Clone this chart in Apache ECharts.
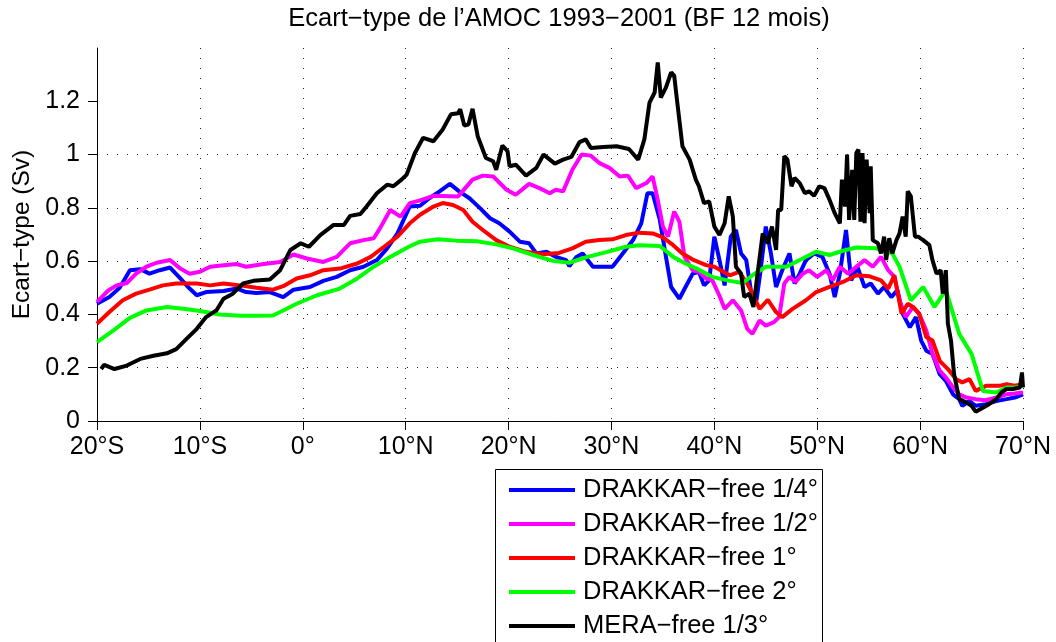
<!DOCTYPE html>
<html>
<head>
<meta charset="utf-8">
<script src="https://cdn.jsdelivr.net/npm/echarts@6/dist/echarts.min.js"></script>
<style>
  html, body { margin: 0; padding: 0; background: #fff; }
  #chart { width: 1056px; height: 642px; }
</style>
</head>
<body>
<div id="chart"></div>
<script>
// latitude (deg, negative = south) / std dev (Sv)
const blueData = [[-20,0.44],[-18.8,0.465],[-17.8,0.50],[-16.8,0.566],[-15.8,0.57],[-14.9,0.553],[-13.9,0.566],[-12.9,0.576],[-11.9,0.535],[-11,0.497],[-10.3,0.472],[-9.4,0.484],[-7.7,0.488],[-6.4,0.497],[-5.5,0.484],[-4.5,0.48],[-3.2,0.484],[-1.9,0.465],[-0.9,0.493],[0.7,0.503],[2.0,0.526],[3.3,0.541],[4.6,0.566],[5.9,0.579],[7.2,0.604],[8.2,0.648],[9.2,0.704],[9.8,0.755],[10.4,0.805],[11.4,0.808],[12.3,0.836],[13.3,0.862],[14.3,0.89],[15.2,0.862],[16.2,0.836],[17.2,0.8],[18.2,0.761],[19.1,0.742],[20.1,0.711],[21.1,0.673],[22,0.667],[22.7,0.629],[23.7,0.635],[24.6,0.616],[25.6,0.604],[25.9,0.581],[26.6,0.616],[27.2,0.629],[28.2,0.579],[29.2,0.579],[30.1,0.579],[31.1,0.629],[32.1,0.679],[32.9,0.742],[33.5,0.855],[34.0,0.855],[34.7,0.755],[35.3,0.616],[35.8,0.503],[36.6,0.459],[37.2,0.503],[37.9,0.553],[38.5,0.56],[39,0.509],[39.5,0.528],[40,0.692],[40.5,0.604],[41,0.509],[41.6,0.692],[42.1,0.717],[42.6,0.629],[43.1,0.604],[43.6,0.478],[44.1,0.453],[44.5,0.566],[45,0.73],[45.5,0.629],[46,0.503],[46.6,0.566],[47.3,0.629],[47.8,0.516],[48.3,0.553],[48.9,0.604],[49.7,0.629],[50.5,0.616],[51.2,0.553],[51.7,0.465],[52.2,0.553],[52.8,0.717],[53.3,0.528],[53.9,0.579],[54.6,0.503],[55.2,0.516],[55.9,0.478],[56.5,0.503],[57.2,0.465],[57.8,0.491],[58.3,0.403],[59,0.352],[59.6,0.39],[60.1,0.302],[60.6,0.264],[61.2,0.252],[61.9,0.176],[62.5,0.151],[63.2,0.1],[63.8,0.082],[64.1,0.057],[64.8,0.075],[65.4,0.057],[66.4,0.063],[67.4,0.075],[68.4,0.082],[69.2,0.088],[70,0.1]];

const magentaData = [[-20,0.447],[-18.9,0.49],[-18.1,0.509],[-17.1,0.518],[-16.2,0.553],[-15.2,0.579],[-14.2,0.594],[-12.9,0.604],[-11.9,0.572],[-11,0.553],[-10,0.56],[-9,0.579],[-7.7,0.585],[-6.4,0.589],[-5.5,0.579],[-3.8,0.589],[-2.2,0.597],[-0.9,0.625],[0.4,0.61],[2.0,0.597],[3.3,0.616],[4.6,0.667],[5.9,0.679],[6.9,0.686],[7.5,0.723],[8.5,0.792],[9.5,0.767],[10.4,0.818],[11.4,0.828],[12.7,0.845],[15.1,0.843],[16.5,0.906],[17.5,0.921],[18.5,0.918],[19.8,0.868],[20.7,0.849],[22,0.89],[23,0.874],[24,0.855],[24.6,0.868],[25.3,0.862],[26.2,0.943],[27.1,1.0],[28,0.996],[28.8,0.969],[29.8,0.95],[30.8,0.918],[31.6,0.921],[32.4,0.874],[33.4,0.893],[34,0.918],[34.5,0.83],[35,0.73],[35.5,0.692],[36.1,0.786],[36.6,0.748],[37.1,0.616],[37.9,0.566],[38.5,0.56],[39.2,0.535],[39.8,0.528],[40.5,0.47],[41,0.421],[41.8,0.453],[42.6,0.415],[43.2,0.346],[43.7,0.327],[44.4,0.377],[45,0.358],[45.8,0.371],[46.3,0.39],[46.8,0.516],[47.3,0.541],[47.9,0.522],[48.6,0.553],[49.2,0.566],[50,0.541],[50.9,0.566],[51.5,0.528],[52.2,0.579],[53,0.553],[53.8,0.579],[54.6,0.604],[55.4,0.579],[56.2,0.616],[56.9,0.566],[57.5,0.541],[58,0.453],[58.6,0.39],[59.3,0.428],[59.9,0.403],[60.6,0.34],[61.2,0.252],[61.9,0.189],[62.5,0.164],[63.2,0.126],[63.8,0.1],[64.5,0.088],[65.4,0.082],[66.4,0.078],[67.4,0.088],[68.4,0.1],[69.2,0.103],[70,0.107]];

const redData = [[-20,0.365],[-18.8,0.409],[-17.5,0.453],[-16.2,0.478],[-14.9,0.493],[-13.6,0.509],[-12.3,0.516],[-10.3,0.516],[-9,0.509],[-7.7,0.516],[-6.1,0.509],[-4.5,0.5],[-2.9,0.493],[-1.9,0.506],[-0.6,0.535],[0.7,0.547],[2.0,0.566],[3.6,0.572],[5.3,0.591],[6.6,0.616],[7.9,0.654],[9.2,0.692],[10.4,0.742],[11.4,0.774],[12.7,0.805],[13.6,0.818],[14.6,0.811],[15.6,0.792],[16.5,0.748],[17.5,0.717],[18.8,0.679],[20.1,0.654],[21.7,0.635],[23.3,0.626],[24.9,0.631],[26.2,0.648],[27.5,0.673],[28.8,0.679],[30.1,0.682],[31.4,0.698],[32.7,0.707],[34,0.704],[35,0.689],[36,0.66],[36.9,0.629],[37.9,0.606],[39.2,0.585],[40,0.579],[41.5,0.547],[42.4,0.56],[43.2,0.516],[43.7,0.478],[44.4,0.421],[45.2,0.455],[46,0.409],[46.6,0.39],[47.6,0.421],[48.9,0.453],[49.9,0.484],[51.2,0.503],[52.5,0.522],[53.8,0.547],[55.1,0.543],[56.2,0.528],[56.9,0.497],[57.5,0.547],[58.2,0.403],[58.8,0.44],[59.3,0.428],[59.9,0.403],[60.6,0.315],[61.2,0.302],[61.9,0.226],[62.7,0.195],[63.5,0.157],[64.1,0.145],[64.8,0.157],[65.4,0.113],[66.4,0.132],[67.7,0.132],[68.4,0.138],[69.2,0.132],[70,0.138]];

const greenData = [[-20,0.296],[-18.4,0.34],[-16.8,0.387],[-15.2,0.415],[-13.2,0.428],[-11.6,0.421],[-10,0.413],[-8.1,0.4],[-6.1,0.395],[-4.5,0.395],[-2.9,0.396],[-1.9,0.415],[-0.6,0.44],[1.4,0.472],[3.6,0.497],[5.3,0.535],[6.9,0.579],[8.5,0.616],[10.3,0.654],[11.4,0.673],[13.1,0.682],[14.9,0.677],[16.9,0.675],[18.8,0.663],[20.4,0.648],[22.4,0.623],[24.3,0.601],[25.9,0.594],[27.5,0.614],[29.5,0.634],[31.4,0.654],[32.7,0.66],[34.7,0.657],[36,0.616],[37.2,0.591],[38.5,0.568],[39.8,0.541],[41.5,0.526],[42.8,0.518],[43.7,0.547],[45,0.579],[47,0.579],[48.3,0.604],[49.9,0.635],[51.2,0.623],[52.5,0.639],[53.8,0.651],[55.7,0.648],[57.3,0.629],[58,0.579],[59.1,0.453],[60.3,0.503],[61.4,0.428],[62.5,0.491],[63.8,0.327],[65,0.252],[66.1,0.113],[67.4,0.107],[68.4,0.126],[69.3,0.126],[70,0.132]];

const blackData = [[-19.6,0.195],[-19.3,0.211],[-18.3,0.195],[-17.1,0.208],[-15.8,0.233],[-14.5,0.245],[-13.2,0.254],[-12.3,0.27],[-11.3,0.308],[-10.3,0.346],[-9.4,0.39],[-8.4,0.415],[-7.7,0.459],[-6.8,0.478],[-5.8,0.516],[-4.8,0.526],[-3.2,0.531],[-2.2,0.566],[-1.2,0.642],[-0.2,0.667],[0.6,0.654],[1.7,0.698],[3.0,0.736],[4.0,0.736],[4.6,0.77],[5.6,0.777],[6.2,0.805],[7.2,0.855],[8.2,0.887],[8.8,0.881],[9.6,0.906],[10.1,0.925],[10.9,1.006],[11.7,1.063],[12.7,1.05],[13.6,1.094],[14.4,1.151],[15.1,1.155],[15.3,1.17],[15.7,1.109],[16.1,1.113],[16.5,1.172],[17,1.069],[17.8,0.987],[18.5,0.975],[18.8,0.943],[19.4,1.034],[19.9,1.013],[20.1,0.956],[20.7,0.962],[21.7,0.921],[22.7,0.95],[23.4,1.0],[24.5,0.966],[25.3,0.981],[26.1,0.991],[26.9,1.047],[27.5,1.057],[28,1.025],[29.2,1.028],[30.5,1.031],[31.7,1.021],[32.6,0.981],[33.2,1.057],[33.7,1.195],[34.2,1.233],[34.5,1.346],[34.8,1.214],[35.3,1.252],[35.8,1.308],[36.1,1.296],[36.4,1.195],[36.9,1.031],[37.6,0.981],[38.2,0.906],[38.5,0.881],[39,0.818],[39.5,0.824],[40,0.73],[40.5,0.698],[41,0.742],[41.4,0.843],[41.8,0.767],[42.1,0.579],[42.6,0.553],[42.9,0.465],[43.4,0.478],[43.8,0.428],[44.2,0.553],[44.7,0.704],[45.2,0.667],[45.6,0.73],[46,0.642],[46.2,0.792],[46.5,0.792],[46.8,0.994],[47.1,0.981],[47.5,0.881],[47.8,0.912],[48.3,0.893],[48.8,0.855],[49.2,0.862],[49.7,0.845],[50.2,0.881],[50.7,0.874],[51.2,0.83],[51.7,0.78],[52.2,0.742],[52.4,0.906],[52.7,0.805],[52.9,1.0],[53.1,0.755],[53.4,0.943],[53.6,0.755],[53.8,1.006],[54,1.019],[54.2,0.748],[54.4,1.006],[54.6,0.742],[54.8,0.981],[55.1,0.78],[55.2,0.956],[55.4,0.679],[55.9,0.667],[56.2,0.629],[56.5,0.692],[56.7,0.604],[57,0.686],[57.3,0.629],[57.7,0.679],[58,0.704],[58.3,0.767],[58.6,0.692],[58.8,0.862],[59.1,0.843],[59.5,0.692],[59.8,0.692],[60.3,0.679],[60.9,0.66],[61.2,0.604],[61.6,0.553],[62,0.566],[62.2,0.478],[62.5,0.566],[62.7,0.365],[63,0.302],[63.3,0.176],[63.8,0.082],[64.5,0.069],[65,0.057],[65.4,0.035],[66.1,0.05],[66.7,0.063],[67.4,0.082],[67.9,0.107],[68.4,0.12],[69,0.12],[69.7,0.126],[69.9,0.182],[70,0.126]];

const seriesNames = ['DRAKKAR−free 1/4°', 'DRAKKAR−free 1/2°', 'DRAKKAR−free 1°', 'DRAKKAR−free 2°', 'MERA−free 1/3°'];
const seriesColors = ['#0000ff', '#ff00ff', '#ff0000', '#00ff00', '#000000'];
const seriesData = [blueData, magentaData, redData, greenData, blackData];

const yTicks = [0, 0.2, 0.4, 0.6, 0.8, 1, 1.2];

const FONT = 'Liberation Sans';

function latLabel(v) {
  if (v < 0) return (-v) + '°S';
  if (v > 0) return v + '°N';
  return '0°';
}

const gridLine = { show: true, lineStyle: { color: '#222', width: 1, type: [1, 9] } };

var chart = echarts.init(document.getElementById('chart'));

var option = {
  animation: false,
  backgroundColor: '#fff',
  title: {
    text: 'Ecart−type de l’AMOC 1993−2001 (BF 12 mois)',
    left: 559,
    textAlign: 'center',
    top: 6,
    padding: 0,
    textStyle: { fontFamily: FONT, fontSize: 25.5, fontWeight: 'normal', color: '#000' }
  },
  grid: { left: 97, right: 33, top: 48, bottom: 221, containLabel: false, outerBoundsMode: 'none' },
  legend: {
    orient: 'vertical',
    left: 495,
    top: 469,
    padding: [8, 0, 0, 14],
    itemGap: 8,
    itemWidth: 66,
    itemHeight: 4,
    icon: 'rect',
    textStyle: { fontFamily: FONT, fontSize: 25.5, color: '#000', padding: [0, 0, 0, 3] },
    data: seriesNames
  },
  graphic: [{
    type: 'rect',
    shape: { x: 495.5, y: 469.5, width: 327, height: 200 },
    style: { fill: 'none', stroke: '#000', lineWidth: 1 },
    silent: true
  }],
  xAxis: {
    type: 'value',
    min: -20,
    max: 70,
    interval: 10,
    axisLine: { show: true, onZero: false, lineStyle: { color: '#000', width: 1 } },
    axisTick: { show: true, length: 9, lineStyle: { color: '#000' } },
    axisLabel: { formatter: latLabel, margin: 14, color: '#000', fontFamily: FONT, fontSize: 25 },
    splitLine: gridLine
  },
  yAxis: {
    type: 'value',
    min: 0,
    max: 1.4,
    interval: 0.2,
    name: 'Ecart−type (Sv)',
    nameLocation: 'middle',
    nameGap: 60,
    nameRotate: 90,
    nameTextStyle: { fontFamily: FONT, fontSize: 24.5, color: '#000' },
    axisLine: { show: true, onZero: false, lineStyle: { color: '#000', width: 1 } },
    axisTick: { show: true, length: 9, lineStyle: { color: '#000' }, customValues: yTicks },
    axisLabel: { margin: 17, color: '#000', fontFamily: FONT, fontSize: 25, customValues: yTicks },
    splitLine: Object.assign({ showMinLine: false, showMaxLine: false }, gridLine)
  },
  series: seriesNames.map(function (name, i) {
    return {
      name: name,
      type: 'line',
      data: seriesData[i],
      showSymbol: false,
      symbol: 'none',
      color: seriesColors[i],
      lineStyle: { color: seriesColors[i], width: 4 },
      z: 2 + i
    };
  })
};

chart.setOption(option);
</script>
</body>
</html>
